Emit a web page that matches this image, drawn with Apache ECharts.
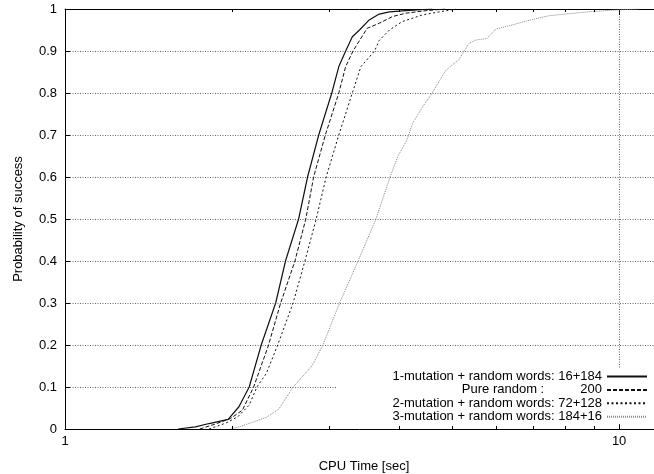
<!DOCTYPE html>
<html>
<head>
<meta charset="utf-8">
<title>CPU time CDF</title>
<script src="https://cdn.jsdelivr.net/npm/echarts@6/dist/echarts.min.js"></script>
<style>
  * { margin: 0; padding: 0; }
  body { background: #fff; }
  #chart { width: 654px; height: 474px; }
</style>
</head>
<body>
<div id="chart"></div>
<script>
// series names as in the key
var seriesNames = [
    '1-mutation + random words: 16+184',
    'Pure random :          200',
    '2-mutation + random words: 72+128',
    '3-mutation + random words: 184+16'
];

// CPU time [sec] / probability of success
var s1Time = [1.60, 1.72, 1.82, 1.97, 2.06, 2.15, 2.26, 2.40, 2.50, 2.64, 2.74, 2.87, 3.03, 3.12, 3.21, 3.30, 3.40, 3.54, 3.69, 3.85, 4.12, 4.60];
var s1Prob = [0, 0.005, 0.013, 0.023, 0.053, 0.10, 0.20, 0.30, 0.40, 0.50, 0.60, 0.70, 0.80, 0.863, 0.90, 0.934, 0.95, 0.974, 0.988, 0.993, 0.996, 1];

var s2Time = [1.75, 1.85, 1.99, 2.09, 2.19, 2.33, 2.45, 2.60, 2.72, 2.81, 2.95, 3.12, 3.21, 3.31, 3.40, 3.51, 3.69, 3.90, 4.12, 4.48, 4.86];
var s2Prob = [0, 0.01, 0.025, 0.045, 0.10, 0.20, 0.30, 0.40, 0.50, 0.60, 0.70, 0.80, 0.863, 0.90, 0.925, 0.954, 0.966, 0.982, 0.99, 0.996, 1];

var s3Time = [1.82, 1.95, 2.05, 2.15, 2.22, 2.31, 2.42, 2.58, 2.71, 2.84, 2.96, 3.12, 3.30, 3.42, 3.62, 3.69, 3.85, 4.06, 4.42, 4.73, 5.07];
var s3Prob = [0, 0.014, 0.029, 0.057, 0.10, 0.133, 0.20, 0.30, 0.40, 0.50, 0.60, 0.70, 0.80, 0.863, 0.90, 0.925, 0.95, 0.97, 0.986, 0.993, 1];

var s4Time = [1.99, 2.06, 2.18, 2.31, 2.43, 2.58, 2.79, 2.92, 3.13, 3.38, 3.64, 3.86, 3.99, 4.14, 4.24, 4.42, 4.60, 4.77, 4.86, 5.00, 5.14, 5.25, 5.36, 5.51, 5.78, 5.99, 6.41, 6.97, 7.47, 8.00, 8.94, 9.98, 10.85];
var s4Prob = [0, 0.005, 0.016, 0.028, 0.047, 0.10, 0.15, 0.20, 0.30, 0.40, 0.50, 0.60, 0.65, 0.688, 0.728, 0.767, 0.80, 0.835, 0.853, 0.867, 0.879, 0.90, 0.918, 0.926, 0.930, 0.952, 0.962, 0.975, 0.984, 0.988, 0.994, 0.998, 1];

// x axis range and minor tick marks of the log decade
var xMin = 1, xMax = 12;
var minorTicks = [2, 3, 4, 5, 6, 7, 8, 9];

function pairs(t, p) {
    return t.map(function (v, i) { return [v, p[i]]; });
}

var font = 'Liberation Sans, Arial, Helvetica, sans-serif';
var chart = echarts.init(document.getElementById('chart'), null, { renderer: 'canvas' });

var lineStyles = [
    { color: '#111', width: 1.2, type: 'solid' },
    { color: '#111', width: 1, type: [4, 2] },
    { color: '#111', width: 1, type: [2, 2.5] },
    { color: '#888', width: 1, type: [1, 1] }
];
var dataSets = [pairs(s1Time, s1Prob), pairs(s2Time, s2Prob), pairs(s3Time, s3Prob), pairs(s4Time, s4Prob)];

var series = seriesNames.map(function (name, i) {
    return {
        name: name,
        type: 'line',
        data: dataSets[i],
        symbol: 'none',
        showSymbol: false,
        lineStyle: lineStyles[i],
        itemStyle: { color: lineStyles[i].color },
        z: 3
    };
});

// small minor ticks on bottom and top border (log axis has no usable minorTick)
series.push({
    type: 'custom',
    name: 'minor ticks',
    silent: true,
    z: 6,
    data: minorTicks.map(function (v) { return [v, 0]; }),
    encode: { x: 0, y: 1 },
    renderItem: function (params, api) {
        var b = api.coord([api.value(0), 0]);
        var t = api.coord([api.value(0), 1]);
        var x = Math.round(b[0]) + 0.5;
        return {
            type: 'group',
            children: [
                { type: 'line', shape: { x1: x, y1: b[1], x2: x, y2: b[1] - 3 }, style: { stroke: '#000', lineWidth: 1 } },
                { type: 'line', shape: { x1: x, y1: t[1], x2: x, y2: t[1] + 3 }, style: { stroke: '#000', lineWidth: 1 } }
            ]
        };
    }
});

var option = {
    animation: false,
    backgroundColor: '#fff',
    textStyle: { fontFamily: font },
    grid: { left: 65, top: 9, width: 598, height: 420, outerBoundsMode: 'none', containLabel: false },
    legend: {
        orient: 'vertical',
        align: 'right',
        right: 0,
        top: 369,
        padding: [1, 6, 1, 4],
        backgroundColor: '#fff',
        itemWidth: 40,
        itemHeight: 10,
        itemGap: 0.4,
        itemStyle: { opacity: 0 },
        data: seriesNames,
        formatter: function (name) { return '{a|' + name + '}'; },
        textStyle: {
            color: '#000',
            fontFamily: font,
            fontSize: 13,
            rich: { a: { width: 261, align: 'right', lineHeight: 13.3, fontSize: 13, fontFamily: font, color: '#000' } }
        }
    },
    xAxis: [
        {
            type: 'log', logBase: 10, min: xMin, max: xMax, position: 'bottom',
            name: 'CPU Time [sec]', nameLocation: 'middle', nameGap: 31,
            nameTextStyle: { color: '#000', fontSize: 13, fontFamily: font },
            axisLine: { lineStyle: { color: '#000', width: 1 } },
            axisTick: { inside: true, length: 6, lineStyle: { color: '#000' } },
            axisLabel: { color: '#000', fontSize: 13, fontFamily: font, margin: 6, showMaxLabel: false },
            splitLine: { show: true, lineStyle: { color: '#666', type: [1, 1.5], width: 1 } }
        },
        {
            type: 'log', logBase: 10, min: xMin, max: xMax, position: 'top',
            axisLine: { lineStyle: { color: '#000', width: 1 } },
            axisTick: { inside: true, length: 6, lineStyle: { color: '#000' } },
            axisLabel: { show: false },
            splitLine: { show: false }
        }
    ],
    yAxis: {
        type: 'value', min: 0, max: 1, interval: 0.1,
        name: 'Probability of success', nameLocation: 'middle', nameGap: 40,
        nameTextStyle: { color: '#000', fontSize: 13, fontFamily: font },
        axisLine: { show: true, lineStyle: { color: '#000', width: 1 } },
        axisTick: { show: true, inside: true, length: 5, lineStyle: { color: '#000' } },
        axisLabel: {
            color: '#000', fontSize: 13, fontFamily: font, margin: 8,
            formatter: function (v) { return String(Math.round(v * 10) / 10); }
        },
        splitLine: { show: true, lineStyle: { color: '#666', type: [1, 1.5], width: 1 } }
    },
    series: series
};

chart.setOption(option);
</script>
</body>
</html>
